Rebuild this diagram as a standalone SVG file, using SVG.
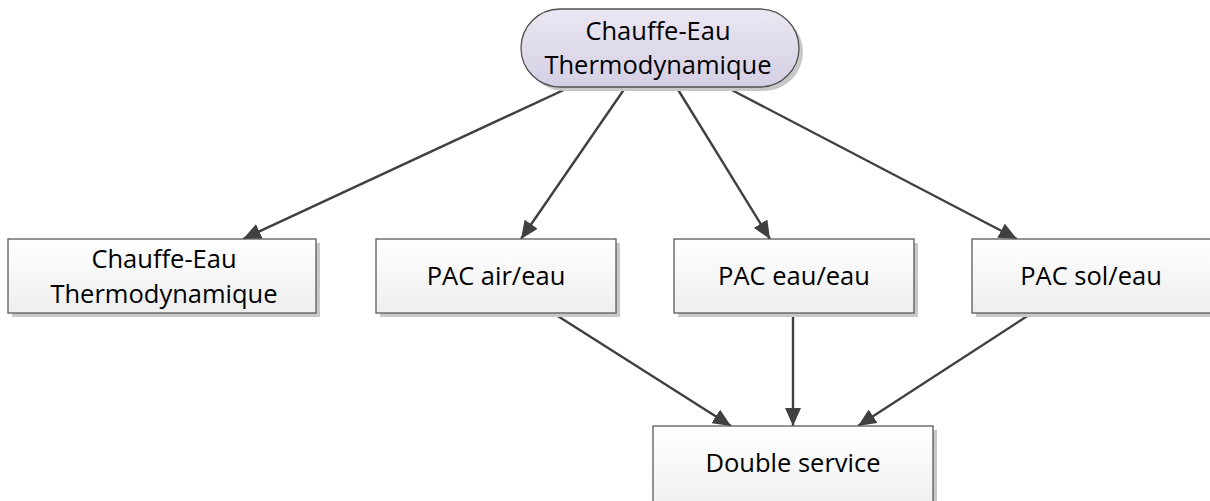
<svg xmlns="http://www.w3.org/2000/svg" width="1210" height="501" viewBox="0 0 1210 501">
  <style>
    .box { fill: url(#boxGrad); stroke: #5a5a5a; stroke-width: 1.3; }
    .pill { fill: url(#pillGrad); stroke: #505050; stroke-width: 1.3; }
    .shadow { fill: #c8c8c8; }
    .label { font-family: "Open Sans", "Noto Sans", sans-serif; font-size: 25.5px; fill: #000; text-anchor: middle; }
    .conn { stroke: #404040; stroke-width: 2.4; fill: none; marker-end: url(#arrow); }
  </style>
  <defs>
    <linearGradient id="boxGrad" x1="0" y1="0" x2="0" y2="1">
      <stop offset="0" stop-color="#ffffff"/>
      <stop offset="1" stop-color="#eeeeee"/>
    </linearGradient>
    <linearGradient id="pillGrad" x1="0" y1="0" x2="0" y2="1">
      <stop offset="0" stop-color="#ebe7f2"/>
      <stop offset="1" stop-color="#d5cfe4"/>
    </linearGradient>
    <marker id="arrow" viewBox="0 0 18 16" refX="18" refY="8" markerWidth="18" markerHeight="16" markerUnits="userSpaceOnUse" orient="auto">
      <path d="M0,0 L18,8 L0,16 Z" fill="#404040"/>
    </marker>
  </defs>

  <g id="connectors">
    <line class="conn" x1="568" y1="88" x2="243" y2="239"/>
    <line class="conn" x1="625" y1="88" x2="521" y2="239"/>
    <line class="conn" x1="677" y1="88" x2="770" y2="239"/>
    <line class="conn" x1="728" y1="88" x2="1017" y2="239"/>
    <line class="conn" x1="553" y1="313" x2="731" y2="426"/>
    <line class="conn" x1="793" y1="313" x2="793" y2="426"/>
    <line class="conn" x1="1032" y1="313" x2="858" y2="426"/>
  </g>

  <g id="node-top">
    <rect class="shadow" x="525" y="13" width="278" height="78" rx="39"/>
    <rect class="pill" x="521" y="9" width="278" height="78" rx="39"/>
    <text class="label" x="658" y="40">Chauffe-Eau</text>
    <text class="label" x="658" y="74">Thermodynamique</text>
  </g>

  <g id="node-chauffe-eau">
    <rect class="shadow" x="12" y="243" width="308" height="74"/>
    <rect class="box" x="8" y="239" width="308" height="74"/>
    <text class="label" x="164" y="268">Chauffe-Eau</text>
    <text class="label" x="164" y="303">Thermodynamique</text>
  </g>

  <g id="node-pac-air">
    <rect class="shadow" x="380" y="243" width="240" height="74"/>
    <rect class="box" x="376" y="239" width="240" height="74"/>
    <text class="label" x="496" y="285">PAC air/eau</text>
  </g>

  <g id="node-pac-eau">
    <rect class="shadow" x="678" y="243" width="240" height="74"/>
    <rect class="box" x="674" y="239" width="240" height="74"/>
    <text class="label" x="794" y="285">PAC eau/eau</text>
  </g>

  <g id="node-pac-sol">
    <rect class="shadow" x="976" y="243" width="240" height="74"/>
    <rect class="box" x="972" y="239" width="240" height="74"/>
    <text class="label" x="1091" y="285">PAC sol/eau</text>
  </g>

  <g id="node-double">
    <rect class="shadow" x="657" y="430" width="280" height="90"/>
    <rect class="box" x="653" y="426" width="280" height="90"/>
    <text class="label" x="793" y="472">Double service</text>
  </g>
</svg>
